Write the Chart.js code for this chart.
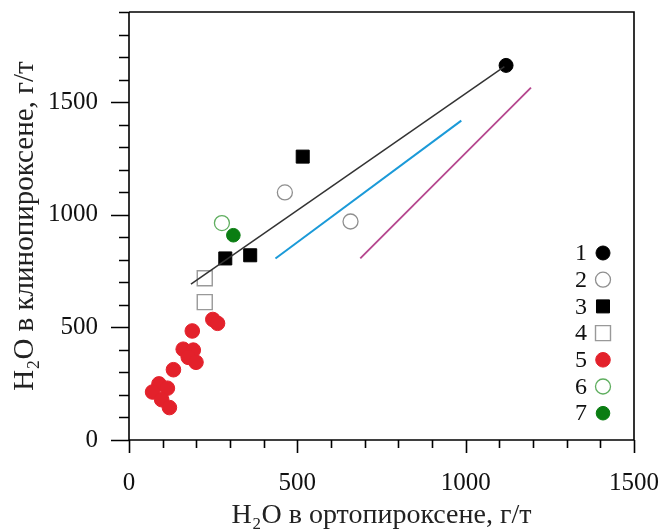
<!DOCTYPE html>
<html>
<head>
<meta charset="utf-8">
<script src="https://cdn.jsdelivr.net/npm/chart.js@4"></script>
<style>
html,body{margin:0;padding:0;background:#fff;}
#wrap{width:671px;height:532px;position:relative;}
</style>
</head>
<body>
<div id="wrap"><canvas id="c" width="671" height="532"></canvas></div>
<script>
// ---- data (H2O, g/t) ----
const legendLabels = ["1", "2", "3", "4", "5", "6", "7"];
const xTickLabels = ["0", "500", "1000", "1500"];
const yTickLabels = ["0", "500", "1000", "1500"];

const s1x = [1120];
const s1y = [1663];
const s2x = [463, 658];
const s2y = [1099, 970];
const s3x = [516, 286, 360];
const s3y = [1258, 806, 820];
const s4x = [225, 225];
const s4y = [718, 612];
const s5x = [89, 114, 70, 97, 120, 132, 161, 188, 191, 176, 199, 249, 263];
const s5y = [249, 230, 213, 179, 144, 312, 403, 484, 399, 367, 345, 535, 518];
const s6x = [276];
const s6y = [963];
const s7x = [310];
const s7y = [909];

const lineBlackX = [184, 1115];
const lineBlackY = [692, 1657];
const lineBlueX = [435, 987];
const lineBlueY = [806, 1418];
const lineMagX = [687, 1194];
const lineMagY = [806, 1564];

const zip = (xs, ys) => xs.map((x, i) => ({x: x, y: ys[i]}));

const SERIF = '"Liberation Serif", "Times New Roman", serif';

const pointSets = [
  {data: zip(s1x, s1y), pointStyle: 'circle', pointRadius: 7, backgroundColor: '#000', borderColor: '#000', borderWidth: 1},
  {data: zip(s2x, s2y), pointStyle: 'circle', pointRadius: 7.5, backgroundColor: 'rgba(255,255,255,0)', borderColor: '#8f8f8f', borderWidth: 1.3},
  {data: zip(s3x, s3y), pointStyle: 'rect', pointRadius: 9.2, backgroundColor: '#000', borderColor: '#000', borderWidth: 1},
  {data: zip(s4x, s4y), pointStyle: 'rect', pointRadius: 10.6, backgroundColor: 'rgba(255,255,255,0)', borderColor: '#999', borderWidth: 1.4},
  {data: zip(s5x, s5y), pointStyle: 'circle', pointRadius: 7.3, backgroundColor: '#e3212b', borderColor: '#e3212b', borderWidth: 1},
  {data: zip(s6x, s6y), pointStyle: 'circle', pointRadius: 7.5, backgroundColor: 'rgba(255,255,255,0)', borderColor: '#5fae5f', borderWidth: 1.3},
  {data: zip(s7x, s7y), pointStyle: 'circle', pointRadius: 6.8, backgroundColor: '#0a7d12', borderColor: '#0a7d12', borderWidth: 1}
];

const datasets = [
  {type: 'line', data: zip(lineBlackX, lineBlackY), borderColor: '#333', borderWidth: 1.5, pointRadius: 0, fill: false},
  {type: 'line', data: zip(lineBlueX, lineBlueY), borderColor: '#1b9ad8', borderWidth: 2, pointRadius: 0, fill: false},
  {type: 'line', data: zip(lineMagX, lineMagY), borderColor: '#b5468e', borderWidth: 1.8, pointRadius: 0, fill: false}
].concat(pointSets.map((p, i) => Object.assign({type: 'scatter', label: legendLabels[i], pointHoverRadius: p.pointRadius}, p)));

// custom tick marks + frame
const frameTicks = {
  id: 'frameTicks',
  afterDraw(chart) {
    const ctx = chart.ctx, a = chart.chartArea;
    const xs = chart.scales.x, ys = chart.scales.y;
    ctx.save();
    ctx.strokeStyle = '#000';
    ctx.lineWidth = 1.6;
    ctx.beginPath();
    ctx.moveTo(a.left, a.top); ctx.lineTo(a.right, a.top); ctx.lineTo(a.right, a.bottom);
    ctx.lineTo(a.left, a.bottom); ctx.lineTo(a.left, a.top);
    for (let v = 0; v <= 1900; v += 100) {
      const y = Math.round(ys.getPixelForValue(v)) + 0.5;
      const len = v % 500 === 0 ? 18 : 10;
      ctx.moveTo(a.left - len, y); ctx.lineTo(a.left, y);
    }
    for (let v = 0; v <= 1500; v += 100) {
      const x = Math.round(xs.getPixelForValue(v)) + 0.5;
      const len = v % 500 === 0 ? 13 : 8;
      ctx.moveTo(x, a.bottom); ctx.lineTo(x, a.bottom + len);
    }
    ctx.stroke();
    ctx.restore();
  }
};

// legend drawn inside the plot (numbers + markers)
const numLegend = {
  id: 'numLegend',
  afterDraw(chart) {
    const ctx = chart.ctx;
    ctx.save();
    ctx.font = '24px ' + SERIF;
    ctx.textAlign = 'center';
    ctx.textBaseline = 'middle';
    pointSets.forEach((p, i) => {
      const y = 253 + i * 26.7;
      ctx.fillStyle = '#111';
      ctx.fillText(legendLabels[i], 581, y + 1);
      ctx.fillStyle = p.backgroundColor;
      ctx.strokeStyle = p.borderColor;
      ctx.lineWidth = p.borderWidth;
      Chart.helpers.drawPoint(ctx, {pointStyle: p.pointStyle, radius: p.pointRadius, borderWidth: p.borderWidth}, 603, y);
    });
    ctx.restore();
  }
};

new Chart(document.getElementById('c'), {
  data: {datasets: datasets},
  options: {
    responsive: false,
    animation: false,
    devicePixelRatio: 1,
    layout: {padding: {top: 8, right: 37, left: 0, bottom: 0}},
    plugins: {legend: {display: false}, tooltip: {enabled: false}},
    scales: {
      x: {
        type: 'linear', min: 0, max: 1500,
        grid: {display: false},
        border: {display: false},
        afterFit(s) { s.height = 92; s.paddingLeft = 0; s.paddingRight = 0; },
        ticks: {
          stepSize: 100, autoSkip: false, maxRotation: 0, padding: 20,
          color: '#111', font: {family: SERIF, size: 25},
          callback: (v) => (v % 500 === 0 ? xTickLabels[v / 500] : '')
        },
        title: {
          display: true, text: 'H₂O в ортопироксене, г/т', color: '#222',
          font: {family: SERIF, size: 28}, padding: {top: 0, bottom: 0}
        }
      },
      y: {
        type: 'linear', min: 0, max: 1900,
        grid: {display: false},
        border: {display: false},
        afterFit(s) { s.width = 129; s.paddingTop = 0; s.paddingBottom = 0; },
        ticks: {
          stepSize: 100, autoSkip: false, padding: 23,
          color: '#111', font: {family: SERIF, size: 25},
          callback: (v) => (v % 500 === 0 ? yTickLabels[v / 500] : '')
        },
        title: {
          display: true, text: 'H₂O в клинопироксене, г/т', color: '#222',
          font: {family: SERIF, size: 29}, padding: {top: 8, bottom: 0}
        }
      }
    }
  },
  plugins: [frameTicks, numLegend]
});
</script>
</body>
</html>
